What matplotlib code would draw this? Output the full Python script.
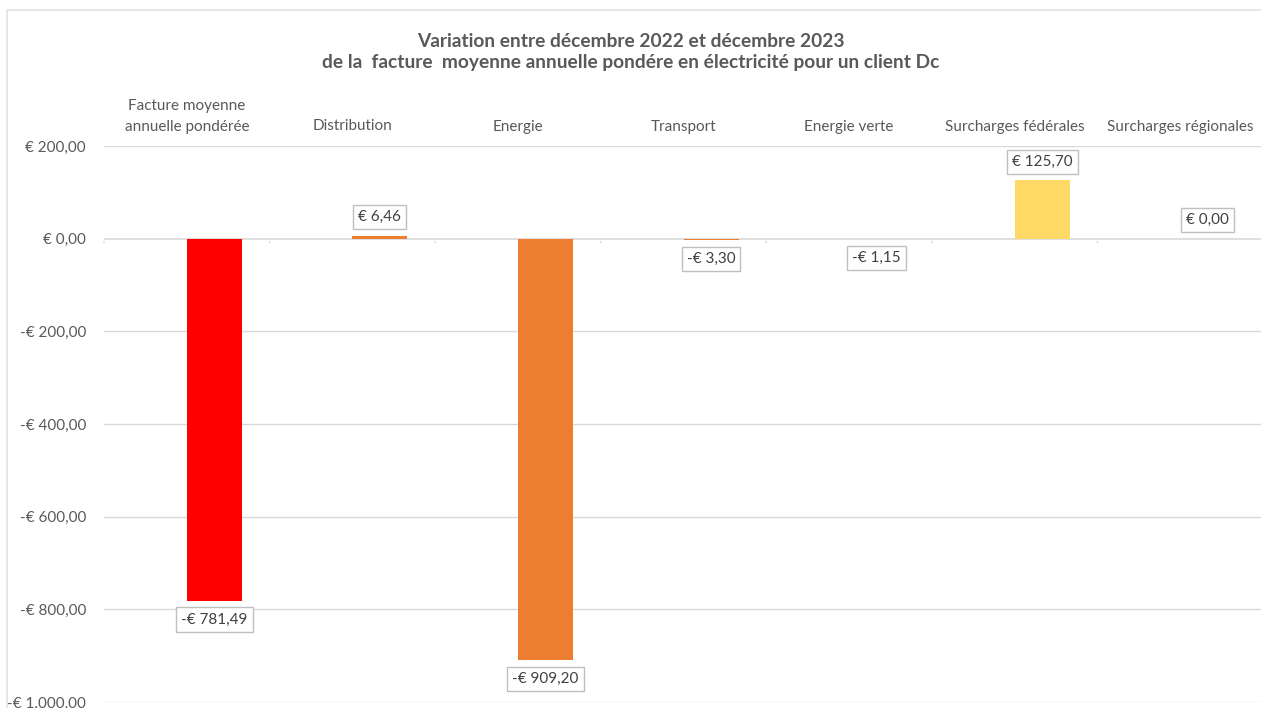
import matplotlib.pyplot as plt
from matplotlib.patches import Rectangle

categories = ["Facture moyenne\nannuelle pondérée", "Distribution", "Energie",
              "Transport", "Energie verte", "Surcharges fédérales",
              "Surcharges régionales"]
values = [-781.49, 6.46, -909.20, -3.30, -1.15, 125.70, 0.00]
colors = ["#FF0000", "#ED7D31", "#ED7D31", "#ED7D31", "#A9D18E", "#FFD966", "#FFD966"]
yticks = [200, 0, -200, -400, -600, -800, -1000]

title = ("Variation entre décembre 2022 et décembre 2023\n"
         "de la  facture  moyenne annuelle pondére en électricité pour un client Dc")

TXT = "#595959"
GRID = "#D9D9D9"


def euro(v):
    s = f"{abs(v):,.2f}".replace(",", " ").replace(".", ",").replace(" ", ".")
    return ("-€ " if v < 0 else "€ ") + s


plt.rcParams["font.family"] = ["Lato", "DejaVu Sans"]

W, H = 1261, 708
fig = plt.figure(figsize=(W / 100, H / 100), dpi=100)

# chart area border
fig.patches.append(Rectangle((7 / W, -0.1), 1.2, 1 - 10 / H + 0.1,
                             transform=fig.transFigure, fill=False,
                             edgecolor="#E3E3E3", linewidth=1.2))

ax = fig.add_axes([104 / W, 1 - 702 / H, 1159 / W, (702 - 146) / H])
n = len(categories)
ax.set_xlim(0, n)
ax.set_ylim(-1000, 200)

bw = 0.333
xs = [i + 0.5 for i in range(n)]
ax.bar(xs, values, width=bw, align="edge", color=colors, zorder=3)

for y in yticks:
    if y != 0:
        ax.axhline(y, color=GRID, linewidth=1, zorder=1)
ax.axhline(0, color=GRID, linewidth=1.2, zorder=2)

for s in ax.spines.values():
    s.set_visible(False)

ax.set_yticks(yticks)
ax.set_yticklabels([euro(v) for v in yticks])
ax.tick_params(axis="y", length=0, pad=13, labelsize=11, labelcolor=TXT)
ax.set_xticks([])

# small ticks on the zero axis at category boundaries
for i in range(n + 1):
    ax.annotate("", xy=(i, 0), xytext=(0, -5), textcoords="offset points",
                arrowprops=dict(arrowstyle="-", color=GRID, lw=1))

# category labels along the top
for i, c in enumerate(categories):
    ax.annotate(c, xy=(i + 0.5, 200), xytext=(0, 9), textcoords="offset points",
                ha="center", va="bottom", fontsize=11, color=TXT,
                linespacing=1.55)

# data labels
for x, v in zip(xs, values):
    off = 13.5 if v >= 0 else -13.5
    ax.annotate(euro(v), xy=(x + bw / 2, v), xytext=(0, off),
                textcoords="offset points", ha="center", va="center",
                fontsize=11, color="#404040", zorder=5,
                bbox=dict(boxstyle="square,pad=0.33", fc="white",
                          ec="#BFBFBF", lw=1))

fig.text(0.5, 1 - 52 / H, title, ha="center", va="center", fontsize=13.8,
         fontweight="bold", color=TXT, linespacing=1.3)

fig.savefig("out.png", dpi=100)
